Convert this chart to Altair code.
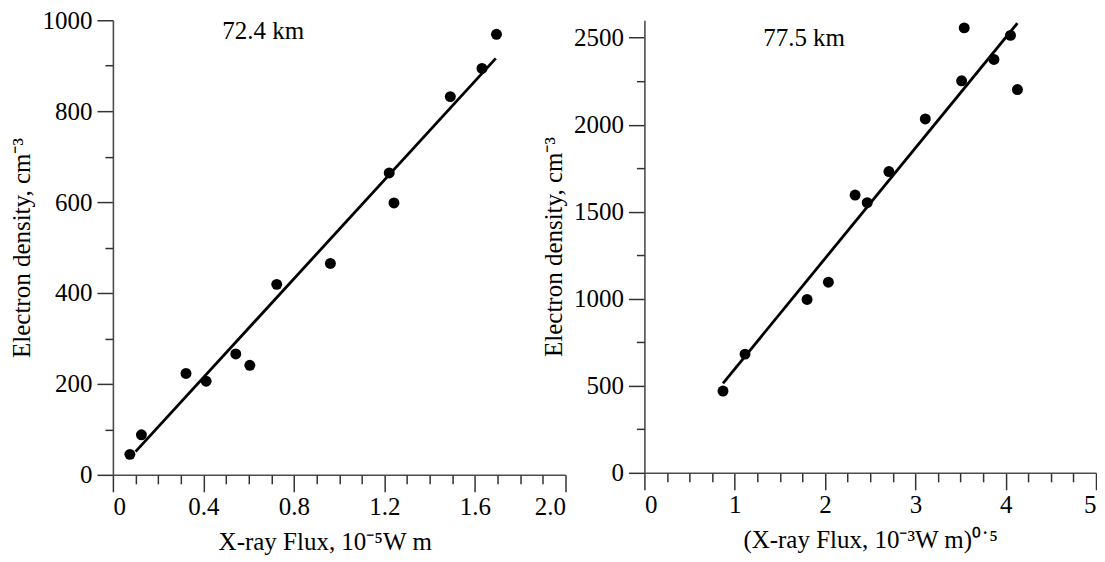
import altair as alt
import pandas as pd

# ---- Left panel (72.4 km) ----
left_x = [0.075, 0.126, 0.323, 0.412, 0.543, 0.605, 0.724, 0.961, 1.221, 1.242, 1.491, 1.631, 1.695]
left_y = [45, 88, 223, 206, 266, 241, 419, 465, 664, 598, 832, 894, 969]
left_fit_x = [0.10, 1.692]
left_fit_y = [51, 916]
left_label = ["72.4 km"]
left_label_x = [0.664]
left_label_y = [977]
left_x_major = [0, 0.4, 0.8, 1.2, 1.6, 2.0]
left_x_minor = [0.1, 0.2, 0.3, 0.5, 0.6, 0.7, 0.9, 1.0, 1.1, 1.3, 1.4, 1.5, 1.7, 1.8, 1.9]
left_y_major = [0, 200, 400, 600, 800, 1000]
left_y_minor = [100, 300, 500, 700, 900]

# ---- Right panel (77.5 km) ----
right_x = [0.870, 1.114, 1.801, 2.037, 2.333, 2.467, 2.707, 3.110, 3.512, 3.541, 3.870, 4.053, 4.130]
right_y = [470, 682, 996, 1095, 1596, 1552, 1731, 2033, 2252, 2556, 2375, 2513, 2202]
right_fit_x = [0.870, 4.130]
right_fit_y = [514, 2583]
right_label = ["77.5 km"]
right_label_x = [1.768]
right_label_y = [2496]
right_x_major = [0, 1, 2, 3, 4, 5]
right_x_minor = [0.25, 0.5, 0.75, 1.25, 1.5, 1.75, 2.25, 2.5, 2.75, 3.25, 3.5, 3.75,
                 4.25, 4.5, 4.75]
right_y_major = [0, 500, 1000, 1500, 2000, 2500]
right_y_minor = [250, 750, 1250, 1750, 2250]

FONT = "Liberation Serif"
FS = 25
AX = dict(labelFont=FONT, titleFont=FONT, labelFontSize=FS, titleFontSize=FS,
          titleFontWeight="normal", labelColor="black", titleColor="black",
          domainColor="#4d4d4d", tickColor="#333", domainWidth=1.6, tickWidth=1.5,
          grid=False)


def panel(xs, ys, fx, fy, lab, lx, ly, xdom, ydom, xmaj, xmin, ymaj, ymin,
          xtitle, ytitle, w, h, xlabel_expr, xtitle_x):
    pts_df = pd.DataFrame({"x": xs, "y": ys})
    fit_df = pd.DataFrame({"x": fx, "y": fy})
    lab_df = pd.DataFrame({"x": lx, "y": ly, "t": lab})
    xs_ = alt.Scale(domain=xdom, nice=False, zero=False)
    ys_ = alt.Scale(domain=ydom, nice=False, zero=False)

    pts = alt.Chart(pts_df).mark_circle(size=120, color="black", opacity=1).encode(
        x=alt.X("x:Q", scale=xs_, axis=alt.Axis(
            values=xmaj, title=xtitle, tickSize=17, labelPadding=3,
            titlePadding=10, titleX=xtitle_x, labelExpr=xlabel_expr,
            orient="bottom", **AX)),
        y=alt.Y("y:Q", scale=ys_, axis=alt.Axis(
            values=ymaj, title=ytitle, tickSize=16, labelPadding=5,
            titlePadding=7, format="d", orient="left", **AX)),
    )
    minor = alt.Chart(pts_df).mark_circle(opacity=0).encode(
        x=alt.X("x:Q", scale=xs_, axis=alt.Axis(
            values=xmin, labels=False, title=None, tickSize=9, domain=False,
            orient="bottom", tickColor="#333", tickWidth=1.5, grid=False)),
        y=alt.Y("y:Q", scale=ys_, axis=alt.Axis(
            values=ymin, labels=False, title=None, tickSize=8, domain=False,
            orient="left", tickColor="#333", tickWidth=1.5, grid=False)),
    )
    line = alt.Chart(fit_df).mark_line(color="black", strokeWidth=2.8).encode(
        x=alt.X("x:Q", scale=xs_, axis=None),
        y=alt.Y("y:Q", scale=ys_, axis=None),
    )
    text = alt.Chart(lab_df).mark_text(
        font=FONT, fontSize=FS, color="black", align="center", baseline="middle"
    ).encode(
        x=alt.X("x:Q", scale=xs_, axis=None),
        y=alt.Y("y:Q", scale=ys_, axis=None),
        text="t:N",
    )
    return alt.layer(line, pts, text, minor).resolve_axis(
        x="independent", y="independent"
    ).properties(width=w, height=h)


left = panel(left_x, left_y, left_fit_x, left_fit_y, left_label, left_label_x,
             left_label_y, [0, 2.0], [0, 1000], left_x_major, left_x_minor,
             left_y_major, left_y_minor, "X-ray Flux, 10⁻⁵W m",
             "Electron density, cm⁻³", 453, 455,
             "datum.value == 0 ? '0' : format(datum.value, '.1f')", 212)
right = panel(right_x, right_y, right_fit_x, right_fit_y, right_label,
              right_label_x, right_label_y, [0, 5], [0, 2600], right_x_major,
              right_x_minor, right_y_major, right_y_minor,
              "(X-ray Flux, 10⁻³W m)⁰˙⁵", "Electron density, cm⁻³", 452, 453,
              "format(datum.value, 'd')", 226)

chart = alt.hconcat(left, right, spacing=79, bounds="flush").configure_view(
    stroke=None
).properties(padding={"left": 2, "top": 0, "right": 0, "bottom": 0})

chart.save("out.html", embed_options={"renderer": "svg", "actions": False})
